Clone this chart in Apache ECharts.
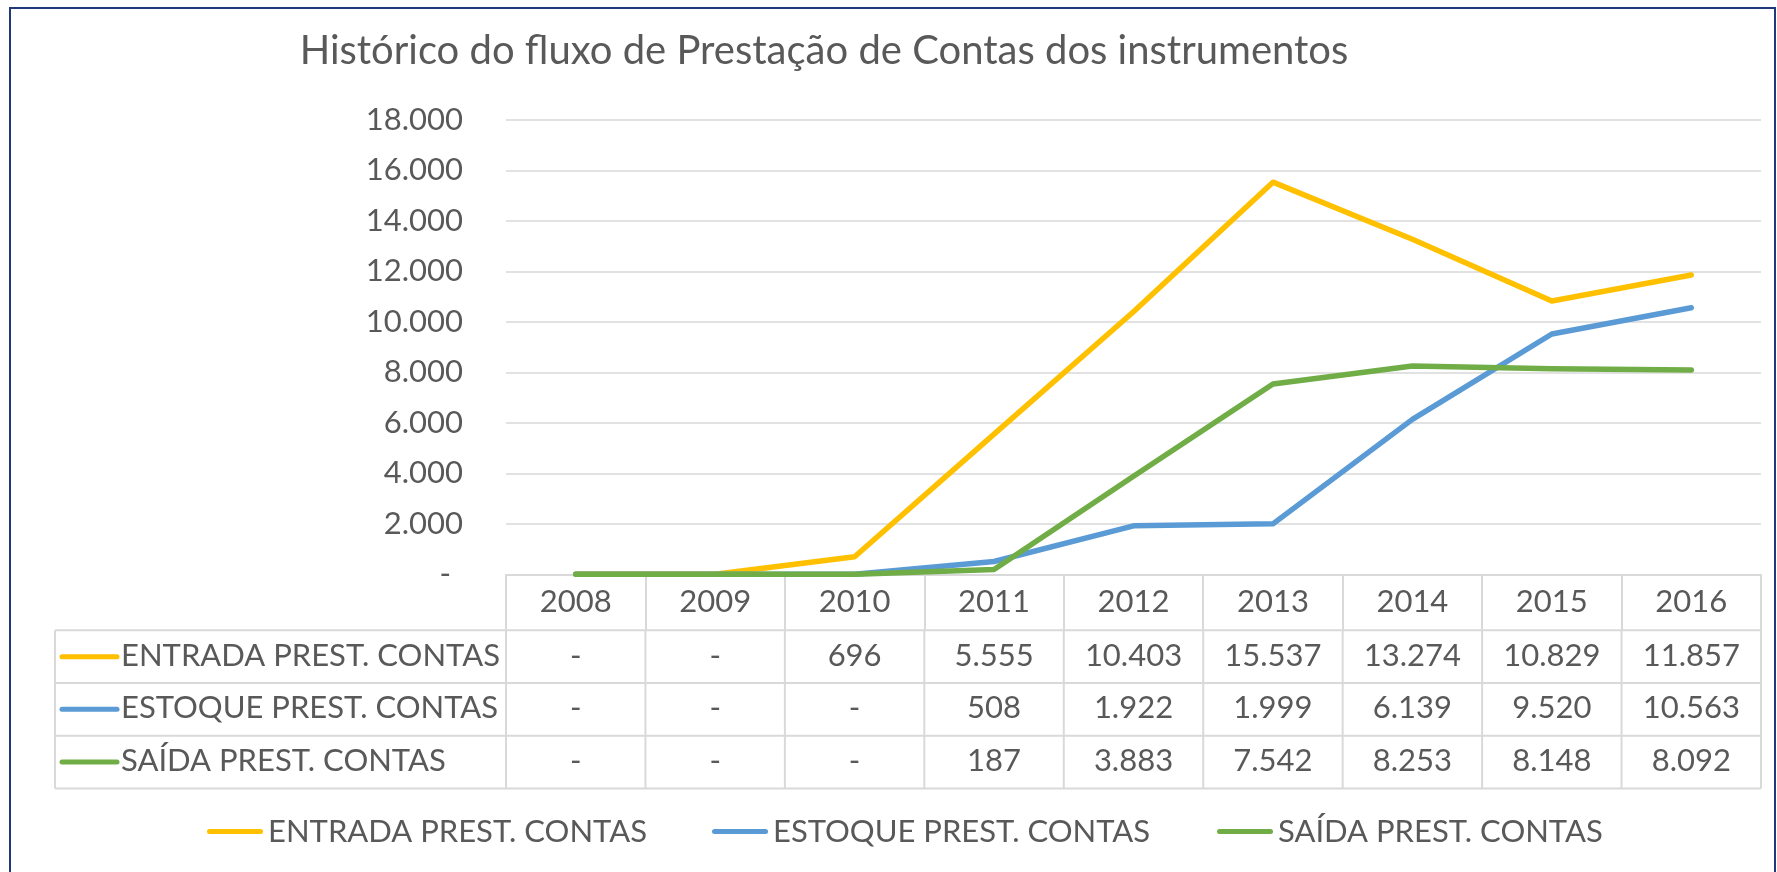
<!DOCTYPE html>
<html>
<head>
<meta charset="utf-8">
<script src="https://cdn.jsdelivr.net/npm/echarts@6/dist/echarts.min.js"></script>
<style>
html,body{margin:0;padding:0;background:#fff;}
#chart{width:1777px;height:872px;}
</style>
</head>
<body>
<div id="chart"></div>
<script>
// ---- data ----
var titleText = 'Histórico do fluxo de Prestação de Contas dos instrumentos';
var years = ['2008','2009','2010','2011','2012','2013','2014','2015','2016'];
var seriesNames = ['ENTRADA PREST. CONTAS','ESTOQUE PREST. CONTAS','SAÍDA PREST. CONTAS'];
var entrada = [0,0,696,5555,10403,15537,13274,10829,11857];
var estoque = [0,0,0,508,1922,1999,6139,9520,10563];
var saida   = [0,0,0,187,3883,7542,8253,8148,8092];
var yMin = 0, yMax = 18000, yStep = 2000;

// ---- style ----
var colors = ['#FFC000','#5B9BD5','#70AD47'];
var FONT = 'Lato';
var TXT = '#595959';
var GRIDC = '#D9D9D9';
var FS = 31;
var LINE_ICON = 'path://M2.5,0 H53.5 A2.5,2.5 0 0 1 53.5,5 H2.5 A2.5,2.5 0 0 1 2.5,0 Z';

function fmt(v){
  if (v === 0) return '-';
  return String(v).replace(/\B(?=(\d{3})+(?!\d))/g,'.');
}

var seriesData = [entrada, estoque, saida];
var chart = echarts.init(document.getElementById('chart'), null, {renderer:'canvas'});

var legendLefts = [207, 712, 1217];
var option = {
  backgroundColor: '#ffffff',
  animation: false,
  color: colors,
  title: {
    text: titleText,
    left: 824, top: 28, padding: 0,
    textAlign: 'center',
    textStyle: {fontFamily: FONT, fontSize: 40, fontWeight: 'normal', color: TXT, lineHeight: 47}
  },
  grid: {left: 506, right: 16, top: 120, bottom: 297.7, containLabel: false},
  xAxis: {
    type: 'category',
    data: years,
    boundaryGap: true,
    axisLine: {show: true, lineStyle: {color: GRIDC, width: 2}},
    axisTick: {show: true, interval: 0, length: 56, inside: false, lineStyle: {color: GRIDC, width: 2}},
    axisLabel: {interval: 0, margin: 9, fontFamily: FONT, fontSize: FS, color: TXT, lineHeight: 37},
    splitLine: {show: false}
  },
  yAxis: {
    type: 'value',
    min: yMin, max: yMax, interval: yStep,
    axisLine: {show: false},
    axisTick: {show: false},
    splitLine: {show: true, lineStyle: {color: GRIDC, width: 1.5}},
    axisLabel: {
      margin: 43, fontFamily: FONT, fontSize: FS, color: TXT,
      formatter: function(v){ return v === 0 ? '{z|-}' : fmt(v); },
      rich: {z: {fontFamily: FONT, fontSize: FS, color: TXT, padding: [0,12,0,0]}}
    }
  },
  legend: seriesNames.map(function(n, i){
    return {
      data: [{name: n, icon: LINE_ICON}], left: legendLefts[i], top: 816, padding: 0,
      itemWidth: 56, itemHeight: 5, itemGap: 0,
      itemStyle: {color: colors[i], borderWidth: 0},
      lineStyle: {width: 0},
      textStyle: {fontFamily: FONT, fontSize: FS, color: TXT},
      selectedMode: false
    };
  }),
  series: seriesNames.map(function(n, i){
    return {
      name: n, type: 'line', data: seriesData[i],
      symbol: 'none', showSymbol: false,
      lineStyle: {width: 5.5, color: colors[i], cap: 'round', join: 'round'},
      itemStyle: {color: colors[i]},
      z: 3 + i
    };
  })
};
chart.setOption(option);

// ---- data table drawn below the axis, aligned with the category scale ----
function buildTable(){
  var c0 = chart.convertToPixel({xAxisIndex: 0}, 0);
  var c8 = chart.convertToPixel({xAxisIndex: 0}, years.length - 1);
  var band = (c8 - c0) / (years.length - 1);
  var leftPlot = c0 - band / 2;
  var rightPlot = c8 + band / 2;
  var yZero = chart.convertToPixel({yAxisIndex: 0}, 0);
  var headerBottom = yZero + 56;
  var rowH = 52.7;
  var tableLeft = 55;
  var els = [];
  var lineStyle = {stroke: GRIDC, lineWidth: 2};
  for (var r = 0; r <= seriesNames.length; r++) {
    var y = headerBottom + r * rowH;
    els.push({type: 'line', shape: {x1: tableLeft, y1: y, x2: rightPlot, y2: y}, style: lineStyle, z: 1});
  }
  var bottom = headerBottom + seriesNames.length * rowH;
  els.push({type: 'line', shape: {x1: tableLeft, y1: headerBottom, x2: tableLeft, y2: bottom}, style: lineStyle, z: 1});
  for (var k = 0; k <= years.length; k++) {
    var x = leftPlot + k * band;
    els.push({type: 'line', shape: {x1: x, y1: headerBottom, x2: x, y2: bottom}, style: lineStyle, z: 1});
  }
  seriesNames.forEach(function(n, i){
    var cy = headerBottom + (i + 0.5) * rowH - 1;
    els.push({type: 'line', shape: {x1: 62, y1: cy + 1, x2: 117, y2: cy + 1},
      style: {stroke: colors[i], lineWidth: 5, lineCap: 'round'}, z: 2});
    els.push({type: 'text', x: 121, y: cy, style: {text: n, font: FS + 'px ' + FONT, fill: TXT,
      textAlign: 'left', textVerticalAlign: 'middle', align: 'left', verticalAlign: 'middle'}, z: 2});
    seriesData[i].forEach(function(v, j){
      var cx = chart.convertToPixel({xAxisIndex: 0}, j);
      els.push({type: 'text', x: cx, y: cy, style: {text: fmt(v), font: FS + 'px ' + FONT, fill: TXT,
        textAlign: 'center', textVerticalAlign: 'middle', align: 'center', verticalAlign: 'middle'}, z: 2});
    });
  });
  els.push({type: 'rect', shape: {x: 10, y: 8, width: 1765, height: 900},
    style: {fill: 'transparent', stroke: '#1F3A7A', lineWidth: 2}, z: 10});
  chart.setOption({graphic: {elements: els}});
}
buildTable();
</script>
</body>
</html>
